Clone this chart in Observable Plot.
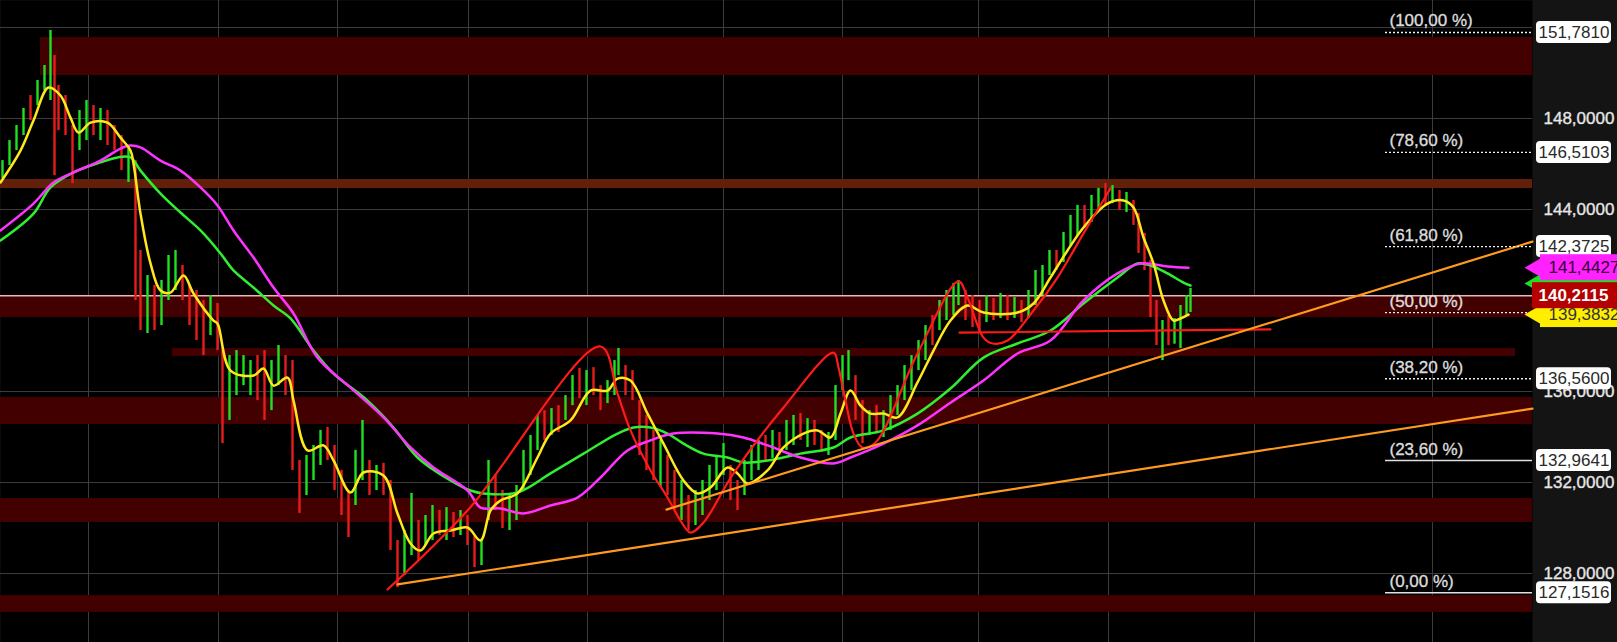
<!DOCTYPE html>
<html><head><meta charset="utf-8">
<script src="https://cdn.jsdelivr.net/npm/d3@7"></script>
<script src="https://cdn.jsdelivr.net/npm/@observablehq/plot@0.6"></script>
<style>html,body{margin:0;padding:0;background:#141414;overflow:hidden}#chart svg{display:block}</style>
</head><body><div id="chart"></div>
<script>
// visible window (time units) and price range
const xEnd = 1532;
const priceDomain = [124.968, 153.187];

// price bars: [time, high, low, up?]
const priceBars = [
[2,146.15,145.36,1],[9,147.03,145.93,1],[16,147.69,146.59,1],[23,148.44,147.25,1],[30,149.01,147.91,0],
[37,149.67,148.57,1],[44,150.33,149.23,1],[50,151.87,148.79,1],[54,150.77,145.49,0],[58,149.45,147.47,0],
[65,149.01,147.25,0],[72,147.69,145.14,0],[79,148.35,146.59,1],[86,148.79,147.03,1],[93,148.57,147.25,0],
[100,148.44,147.03,1],[107,148.35,146.81,0],[114,147.69,146.59,0],[121,147.25,145.71,0],[128,146.81,145.19,1],
[135,146.15,140.00,0],[140,142.20,138.68,0],[147,141.10,138.55,1],[154,140.66,138.68,0],[161,140.88,138.90,1],
[168,141.98,140.00,1],[175,142.20,140.44,1],[182,141.54,140.00,0],[189,140.66,138.90,0],[196,140.44,138.24,0],
[203,140.00,137.58,0],[210,140.22,138.46,1],[217,139.87,137.80,0],[222,137.80,133.71,0],[229,137.58,134.73,1],
[236,137.80,135.82,1],[243,137.58,136.26,1],[250,137.36,135.82,1],[257,137.58,135.60,0],[264,137.80,134.73,0],
[271,137.36,135.16,1],[278,138.02,136.26,1],[285,137.58,135.82,0],[292,137.36,132.53,0],[299,132.97,130.64,0],
[306,133.19,131.43,1],[313,133.63,132.09,1],[320,134.29,132.75,1],[327,134.42,132.97,0],[334,133.63,131.65,0],
[341,132.53,130.55,0],[348,131.65,129.58,0],[355,133.41,130.99,1],[362,134.73,132.09,1],[369,132.97,131.43,0],
[376,132.75,131.65,1],[383,132.84,131.43,0],[390,132.09,129.01,0],[397,129.45,127.38,0],[404,129.89,127.91,1],
[411,131.52,128.79,1],[418,130.33,128.57,0],[425,130.55,129.23,1],[432,130.99,129.45,1],[439,130.77,129.67,0],
[446,130.90,129.45,1],[453,130.68,129.58,0],[460,130.77,129.67,1],[467,130.55,129.23,0],[474,129.67,128.26,0],
[481,129.45,128.35,1],[488,132.97,130.33,1],[495,132.31,130.77,0],[502,131.65,129.98,0],[509,131.43,129.89,1],
[516,131.87,130.33,1],[523,133.41,131.65,1],[530,134.07,132.31,1],[537,134.95,133.41,1],[544,135.16,133.85,0],
[551,135.25,134.07,1],[558,135.38,134.20,0],[565,135.82,134.73,1],[572,136.70,135.38,1],[579,137.01,135.69,0],
[586,136.92,135.38,1],[593,137.05,135.82,0],[600,136.26,135.16,0],[607,136.48,135.47,1],[614,137.36,135.82,1],
[618,137.89,136.70,1],[625,137.14,135.82,0],[632,136.92,135.60,0],[639,135.60,133.19,0],[646,134.95,132.53,0],
[653,134.29,132.09,0],[660,133.85,131.78,1],[667,133.19,131.43,0],[674,132.53,130.77,0],[681,132.09,130.33,1],
[688,131.43,129.89,0],[695,131.65,130.11,1],[702,132.09,130.55,1],[709,132.75,131.21,1],[716,133.19,131.65,1],
[723,133.71,132.31,1],[730,132.75,131.21,0],[737,132.09,130.77,0],[744,132.97,131.43,1],[751,133.63,132.09,1],
[758,133.85,132.53,1],[765,134.07,132.97,0],[772,134.29,133.06,1],[779,134.20,133.19,0],[786,134.73,133.41,1],
[793,134.95,133.63,1],[800,135.03,133.85,0],[807,134.81,133.54,1],[814,134.73,133.63,0],[821,134.29,133.32,0],
[828,134.20,133.19,1],[835,136.26,133.85,1],[842,137.58,136.04,1],[848,137.80,136.48,1],[855,136.70,134.73,0],
[862,135.60,133.71,0],[869,135.16,134.07,1],[876,135.38,134.15,0],[883,135.16,133.98,1],[890,135.82,134.29,1],
[897,136.26,134.95,1],[904,137.14,135.60,1],[911,137.58,136.04,1],[918,138.24,136.92,1],[925,138.90,137.36,1],
[932,139.34,138.02,0],[939,140.00,138.68,1],[946,140.44,139.12,1],[953,140.75,139.34,1],[958,140.88,139.78,1],
[965,140.44,139.12,0],[972,140.22,138.81,0],[979,140.00,138.68,0],[986,140.22,139.03,1],[993,140.09,139.12,0],
[1000,140.31,139.21,1],[1007,140.22,139.12,0],[1014,140.13,139.21,1],[1021,140.00,139.03,0],[1028,140.44,139.21,1],
[1035,141.32,139.78,1],[1042,141.54,140.22,1],[1049,142.20,141.10,1],[1056,142.20,141.32,0],[1063,142.99,141.67,1],
[1070,143.74,142.42,1],[1077,144.18,142.86,1],[1084,144.18,143.17,0],[1091,144.62,143.43,1],[1098,144.93,143.96,1],
[1105,145.14,144.18,0],[1112,145.05,144.26,1],[1119,144.84,143.96,0],[1126,144.75,143.87,1],[1133,144.40,143.30,0],
[1138,143.82,142.07,0],[1144,142.95,141.32,0],[1150,141.76,139.25,0],[1156,140.00,138.02,0],[1162,139.12,137.36,1],
[1168,139.34,138.02,0],[1174,139.21,138.08,1],[1180,139.78,137.89,1],[1186,140.22,139.34,1],[1190,140.53,139.47,1]
];

// moving averages: [time, value]
const yellowMA = [[0,145.19],[20,146.59],[33,147.91],[48,149.36],[60,149.01],[70,148.04],[78,147.38],[90,147.82],[107,147.82],[120,147.16],[130,146.59],[133,146.02],[140,143.82],[150,141.63],[160,140.44],[170,140.35],[183,141.10],[193,140.31],[213,139.12],[217,138.99],[230,136.92],[253,136.70],[263,137.01],[273,136.26],[287,136.61],[293,135.60],[307,133.41],[323,133.63],[333,132.97],[350,131.56],[363,132.44],[383,132.31],[397,130.64],[410,129.32],[420,129.01],[433,129.76],[450,129.89],[467,130.02],[480,129.45],[490,130.77],[500,131.21],[517,131.52],[537,133.10],[550,134.15],[570,134.73],[590,136.04],[607,136.04],[617,136.57],[630,136.48],[647,135.03],[663,133.71],[683,132.09],[697,131.52],[710,131.78],[727,132.66],[737,132.40],[747,131.96],[767,132.53],[783,133.54],[803,134.15],[817,134.29],[830,133.98],[840,135.03],[850,136.04],[860,135.38],[870,135.03],[883,135.03],[897,134.86],[917,136.40],[933,137.80],[950,139.12],[967,139.78],[983,139.47],[1017,139.47],[1033,139.87],[1050,141.01],[1067,142.20],[1083,143.21],[1107,144.26],[1123,144.40],[1133,144.09],[1143,142.77],[1153,141.63],[1163,140.00],[1173,139.12],[1180,139.21],[1188,139.38]];
const greenMA = [[0,142.64],[33,143.82],[50,144.97],[73,145.63],[100,146.07],[117,146.29],[130,146.29],[140,145.71],[160,144.70],[180,143.87],[200,143.08],[220,142.07],[233,141.32],[253,140.57],[273,139.78],[290,139.21],[313,137.80],[333,136.79],[367,135.60],[393,134.42],[417,133.10],[450,132.09],[470,131.65],[483,131.52],[517,131.56],[550,132.40],[583,133.27],[617,134.15],[633,134.42],[650,134.42],[667,134.15],[683,133.71],[703,133.27],[727,133.10],[743,132.88],[767,132.97],[800,133.27],[833,133.54],[850,133.98],[883,134.29],[917,135.03],[950,136.13],[983,137.49],[1017,138.11],[1050,138.68],[1083,139.87],[1117,141.01],[1137,141.63],[1150,141.54],[1167,141.19],[1183,140.79],[1190,140.66]];
const magentaMA = [[0,143.08],[33,144.26],[53,145.19],[73,145.63],[100,146.15],[120,146.68],[130,146.81],[140,146.73],[160,146.15],[180,145.71],[200,144.97],[217,144.18],[233,143.08],[253,141.89],[273,140.57],[293,139.43],[317,137.49],[350,136.17],[383,134.86],[410,133.54],[433,132.66],[467,131.65],[480,130.90],[500,130.86],[523,130.64],[550,130.99],[577,131.34],[600,132.22],[627,133.41],[650,133.85],[673,134.15],[717,134.15],[743,133.98],[767,133.63],[800,133.10],[833,132.84],[850,133.10],[883,133.71],[917,134.51],[950,135.51],[983,136.48],[1017,137.67],[1050,138.24],[1083,140.00],[1117,141.19],[1140,141.63],[1167,141.50],[1188,141.44]];

// drawn pattern (red) and horizontal red level
const redPattern = [[387,127.30],[467,130.77],[600,137.98],[617,135.91],[630,134.29],[650,132.53],[667,131.34],[680,130.33],[690,129.80],[703,130.24],[733,132.40],[783,135.30],[833,137.71],[838,137.05],[845,135.60],[853,134.15],[862,133.54],[875,133.76],[917,137.67],[958,140.84],[967,140.13],[983,138.37],[992,138.11],[1007,138.24],[1033,139.56],[1057,141.01],[1083,142.95],[1110,144.93]];
const redLevel = [[959,138.59],[1270,138.73]];

// orange trend lines
const trendUpper = [[666,130.81],[1532,142.59]];
const trendLower = [[397,127.52],[1532,135.25]];

// zones: [t1, t2, low, high, kind]
const zones = [
[40,1532,149.89,151.56,"r"],[0,1532,144.92,145.32,"o"],[0,1532,139.25,140.18,"r"],
[172,1515,137.54,137.89,"r"],[0,1532,134.55,135.74,"r"],[0,1532,130.24,131.30,"r"],[0,1532,126.29,127.03,"r"]
];

// grid
const gridPrices = [128,132,136,140,144,148,152];
const gridTimes = [88,218,337,468,587,723,842,978,1108,1254,1432];
const tickPrices = [128,132,136,144,148];

// fibonacci retracement
const fibStart = 1385;
const fibPct = ["100,00 %","78,60 %","61,80 %","50,00 %","38,20 %","23,60 %","0,00 %"];
const fibVal = [151.781,146.5103,142.3725,139.4663,136.56,132.9641,127.1516];
const fibDotted = [1,1,1,1,1,0,0];
const fibBoxed = [1,1,1,0,1,1,1];

// last values
const lastPrice = 140.2115;
const tags = [
  {v:140.75, label:"", fill:"#22dd22", text:"#000", bold:false, arrow:true},
  {v:139.3832, label:"139,3832", fill:"#ffee00", text:"#333", bold:false, arrow:true},
  {v:141.4427, label:"141,4427", fill:"#ff22ff", text:"#330033", bold:false, arrow:true},
  {v:lastPrice, label:"140,2115", fill:"#b40000", text:"#ffffff", bold:true, arrow:false}
];

const fmt = v => v.toFixed(4).replace(".", ",");
const bars = priceBars.map(([t,hi,lo,up]) => ({t,hi,lo,up}));
const pts = a => a.map(([t,v]) => ({t,v}));
const zoneData = zones.map(([t1,t2,lo,hi,k]) => ({t1,t2,lo,hi,k}));
const fib = fibVal.map((v,i) => ({v, pct:"(" + fibPct[i] + ")", dotted:fibDotted[i], boxed:fibBoxed[i]}));
const font = "Liberation Sans, Arial, sans-serif";

const chart = Plot.plot({
  width: 1617, height: 642,
  marginLeft: 0, marginRight: 85, marginTop: 0, marginBottom: 0,
  style: {background: "#141414", fontFamily: font},
  x: {domain: [0, xEnd], axis: null},
  y: {domain: priceDomain, axis: null},
  marks: [
    Plot.frame({fill: "#000", stroke: "none"}),
    Plot.ruleY(gridPrices, {stroke: "#3c3c3c", strokeWidth: 1}),
    Plot.ruleX(gridTimes, {stroke: "#3c3c3c", strokeWidth: 1}),
    Plot.rect(zoneData, {x1: "t1", x2: "t2", y1: "lo", y2: "hi", fill: d => d.k === "o" ? "#62200a" : "#420000"}),
    Plot.ruleY([lastPrice], {stroke: "#e8b8b8", strokeWidth: 1.5}),
    Plot.ruleX(bars, {x: "t", y1: "lo", y2: "hi", stroke: d => d.up ? "#22e022" : "#e81c1c", strokeWidth: 2.4}),
    Plot.line(pts(greenMA), {x: "t", y: "v", stroke: "#30ee30", strokeWidth: 2.5, curve: "catmull-rom"}),
    Plot.line(pts(magentaMA), {x: "t", y: "v", stroke: "#ff33ff", strokeWidth: 2.5, curve: "catmull-rom"}),
    Plot.line(pts(yellowMA), {x: "t", y: "v", stroke: "#ffe81c", strokeWidth: 2.5, curve: "catmull-rom"}),
    Plot.line(pts(redPattern), {x: "t", y: "v", stroke: "#ff1a1a", strokeWidth: 2.2, curve: "catmull-rom"}),
    Plot.line(pts(redLevel), {x: "t", y: "v", stroke: "#ff1a1a", strokeWidth: 2.2}),
    Plot.line(pts(trendUpper), {x: "t", y: "v", stroke: "#ff9a1e", strokeWidth: 2.2}),
    Plot.line(pts(trendLower), {x: "t", y: "v", stroke: "#ff9a1e", strokeWidth: 2.2}),
    // fibonacci
    Plot.ruleY(fib.filter(d => d.dotted), {y: "v", x1: fibStart, x2: xEnd, stroke: "#f0f0f0", strokeWidth: 1.3, strokeDasharray: "2,2"}),
    Plot.ruleY(fib.filter(d => !d.dotted), {y: "v", x1: fibStart, x2: xEnd, stroke: "#e0e0e0", strokeWidth: 1.5}),
    Plot.text(fib, {x: fibStart, y: "v", text: "pct", textAnchor: "start", lineAnchor: "bottom", dx: 4, dy: -6, fill: "#dcdcdc", stroke: "#dcdcdc", strokeWidth: 0.35, fontSize: 17}),
    // right axis labels
    Plot.text(tickPrices, {x: xEnd, y: d => d, text: d => fmt(d), textAnchor: "start", dx: 11, fill: "#e6e6e6", stroke: "#e6e6e6", strokeWidth: 0.35, fontSize: 17}),
    Plot.rect(fib.filter(d => d.boxed), {x1: xEnd, x2: xEnd, y1: "v", y2: "v", insetLeft: 4, insetRight: -79, insetTop: -11, insetBottom: -11, rx: 4, fill: "#ffffff"}),
    Plot.text(fib.filter(d => d.boxed), {x: xEnd, y: "v", text: d => fmt(d.v), textAnchor: "start", dx: 6, fill: "#2a2a2a", fontSize: 17}),
    // last value tags
    ...tags.flatMap(tg => [
      Plot.rect([tg], {x1: xEnd, x2: xEnd, y1: "v", y2: "v", insetLeft: tg.arrow ? 8 : 0, insetRight: -90, insetTop: -13, insetBottom: -13, fill: tg.fill}),
      ...(tg.arrow ? [Plot.dot([tg], {x: xEnd, y: "v", symbol: "triangle", rotate: -90, r: 9, dx: 6, fill: tg.fill})] : []),
      Plot.text([tg], {x: xEnd, y: "v", text: "label", textAnchor: "start", dx: tg.bold ? 6 : 16, fill: tg.text, fontSize: 17, fontWeight: tg.bold ? "bold" : "normal"})
    ])
  ]
});
document.getElementById("chart").appendChild(chart);
</script></body></html>
